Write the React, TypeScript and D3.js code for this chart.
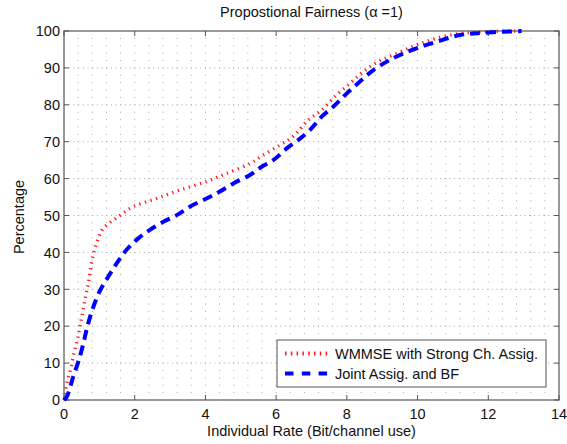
import React from "react";
import * as d3 from "d3";

// CDF of individual rates under proportional fairness (alpha = 1)
const wmmseRate = [0, 0.03, 0.1, 0.2, 0.28, 0.38, 0.45, 0.53, 0.61, 0.69, 0.76, 0.86, 0.99, 1.11, 1.54, 1.96, 2.62, 3.28, 4.03, 4.6, 5.26, 5.64, 6.11, 6.48, 6.91, 7.29, 7.71, 8.09, 8.47, 8.89, 9.41, 10.07, 10.92, 11.86, 12.94];
const wmmsePct = [0, 2, 5.4, 8.7, 12.7, 16.3, 19.9, 23.9, 28, 31.7, 36.1, 40.6, 44.3, 46.5, 49.7, 52.4, 54.6, 56.9, 59.2, 61.4, 64.1, 66.4, 69.1, 71.4, 75.9, 78.6, 82.7, 85.8, 89, 91.7, 93.9, 96.6, 98.9, 99.8, 100];

const jointRate = [0, 0.08, 0.26, 0.42, 0.55, 0.66, 0.8, 1.0, 1.25, 1.49, 1.77, 2.1, 2.43, 2.81, 3.19, 3.56, 4.03, 4.41, 4.79, 5.26, 5.59, 5.92, 6.3, 6.63, 6.96, 7.29, 7.62, 8.0, 8.37, 8.75, 9.13, 9.5, 9.97, 10.54, 11.2, 11.86, 12.94];
const jointPct = [0, 0.9, 6.3, 10.8, 15.4, 19.9, 24.4, 29.3, 33.4, 37, 40.7, 43.8, 46.1, 48.3, 50.1, 52.4, 54.6, 56.5, 58.7, 61, 63.2, 65, 68.2, 70.5, 73.2, 76.8, 79.5, 83.1, 86.3, 89.4, 91.7, 93.5, 95.3, 97.1, 98.9, 99.5, 100];

const xTicks = [0, 2, 4, 6, 8, 10, 12, 14];
const yTicks = [0, 10, 20, 30, 40, 50, 60, 70, 80, 90, 100];
const seriesNames = ["WMMSE with Strong Ch. Assig.", "Joint Assig. and BF"];

const W = 567;
const H = 444;
const M = { left: 64, right: 559, top: 31, bottom: 400 };
const FONT = "'Liberation Sans', Arial, Helvetica, sans-serif";
const FS = 14.5;
const AXIS = "#555";
const TEXT = "#111";

export default function App() {
  const x = d3.scaleLinear().domain([0, 14]).range([M.left, M.right]);
  const y = d3.scaleLinear().domain([0, 100]).range([M.bottom, M.top]);

  const line = d3
    .line<[number, number]>()
    .x((d) => x(d[0]))
    .y((d) => y(d[1]))
    .curve(d3.curveCatmullRom.alpha(0.5));

  const redPath = line(wmmseRate.map((r, i) => [r, wmmsePct[i]]) as [number, number][]) || "";
  const bluePath = line(jointRate.map((r, i) => [r, jointPct[i]]) as [number, number][]) || "";

  // minor vertical grid every 0.4, horizontal grid every 2
  const vGrid = d3.range(0, 14.0001, 0.4).map((v) => +v.toFixed(2));
  const hMinor = d3.range(0, 100.0001, 2);

  const dots: React.ReactElement[] = [];
  vGrid.forEach((gx, i) => {
    hMinor.forEach((gy, j) => {
      if (gx === 0 || gx >= 14 || gy === 0 || gy >= 100) return;
      dots.push(
        <rect key={`d${i}-${j}`} x={x(gx) - 0.5} y={y(gy) - 0.5} width={1} height={1} fill="#a8a8a8" />
      );
    });
  });

  const tickLen = 5;
  const legend = { x0: 277, y0: 340, x1: 546, y1: 387 };

  return (
    <svg
      width={W}
      height={H}
      style={{ position: "absolute", left: 0, top: 0, display: "block", background: "#fff" }}
      fontFamily={FONT}
    >
      <rect x={0} y={0} width={W} height={H} fill="#fff" />

      {/* dotted grid */}
      <g>{dots}</g>
      {yTicks.slice(1, -1).map((t) => (
        <line
          key={`hg${t}`}
          x1={M.left}
          x2={M.right}
          y1={y(t)}
          y2={y(t)}
          stroke="#a8a8a8"
          strokeWidth={1}
          strokeDasharray="1,3.7"
        />
      ))}

      {/* axes box */}
      <rect
        x={M.left}
        y={M.top}
        width={M.right - M.left}
        height={M.bottom - M.top}
        fill="none"
        stroke={AXIS}
        strokeWidth={1.2}
      />

      {/* ticks */}
      {xTicks.map((t) => (
        <g key={`xt${t}`}>
          <line x1={x(t)} x2={x(t)} y1={M.bottom} y2={M.bottom - tickLen} stroke={AXIS} />
          <line x1={x(t)} x2={x(t)} y1={M.top} y2={M.top + tickLen} stroke={AXIS} />
          <text x={x(t)} y={419} fontSize={FS} textAnchor="middle" fill={TEXT}>
            {t}
          </text>
        </g>
      ))}
      {yTicks.map((t) => (
        <g key={`yt${t}`}>
          <line x1={M.left} x2={M.left + tickLen} y1={y(t)} y2={y(t)} stroke={AXIS} />
          <line x1={M.right} x2={M.right - tickLen} y1={y(t)} y2={y(t)} stroke={AXIS} />
          <text x={60} y={y(t) + 5.2} fontSize={FS} textAnchor="end" fill={TEXT}>
            {t}
          </text>
        </g>
      ))}

      {/* curves */}
      <path d={redPath} fill="none" stroke="#ff1a1a" strokeWidth={3.3} strokeDasharray="1.3,4.5" />
      <path d={bluePath} fill="none" stroke="#0000ff" strokeWidth={4} strokeDasharray="10,6" />

      {/* labels */}
      <text x={(M.left + M.right) / 2} y={17} fontSize={FS} textAnchor="middle" fill={TEXT}>
        Propostional Fairness (α =1)
      </text>
      <text x={(M.left + M.right) / 2} y={436} fontSize={FS} textAnchor="middle" fill={TEXT}>
        Individual Rate (Bit/channel use)
      </text>
      <text
        transform={`translate(23.5,217) rotate(-90)`}
        fontSize={FS}
        textAnchor="middle"
        fill={TEXT}
      >
        Percentage
      </text>

      {/* legend */}
      <rect
        x={legend.x0}
        y={legend.y0}
        width={legend.x1 - legend.x0}
        height={legend.y1 - legend.y0}
        fill="#fff"
        stroke={AXIS}
        strokeWidth={1}
      />
      <line x1={285} x2={329} y1={353.5} y2={353.5} stroke="#ff1a1a" strokeWidth={4} strokeDasharray="1.5,4.3" />
      <line x1={285} x2={329} y1={373.5} y2={373.5} stroke="#0000ff" strokeWidth={4} strokeDasharray="8.5,8.3" />
      <text x={335} y={358.5} fontSize={FS} fill={TEXT}>
        {seriesNames[0]}
      </text>
      <text x={335} y={378.5} fontSize={FS} fill={TEXT}>
        {seriesNames[1]}
      </text>
    </svg>
  );
}
